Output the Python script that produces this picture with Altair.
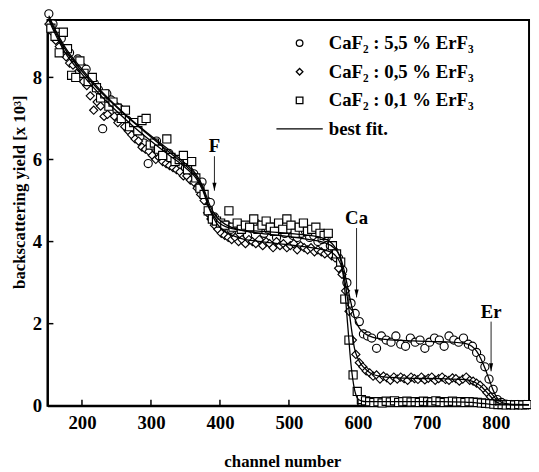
import altair as alt
import pandas as pd

SERIES = ["CaF₂ : 5,5 % ErF₃", "CaF₂ : 0,5 % ErF₃", "CaF₂ : 0,1 % ErF₃"]
FIT_LABEL = "best fit."

# --- circles : CaF2 : 5,5 % ErF3 ---
circ_ch = [152, 158, 164, 170, 176, 182, 188, 194, 200, 206,
           212, 218, 224, 230, 236, 242, 248, 254, 260, 266,
           272, 278, 284, 290, 296, 302, 308, 314, 320, 326,
           332, 338, 344, 350, 356, 362, 368, 374, 380, 386,
           392, 398, 404, 410, 416, 422, 428, 434, 440, 446,
           452, 458, 464, 470, 476, 482, 488, 494, 500, 506,
           512, 518, 524, 530, 536, 542, 548, 554, 560, 566,
           572, 578, 584, 590, 596, 602, 608, 614, 620,
           627, 634, 641, 648, 655, 662, 669, 676, 683, 690,
           697, 704, 711, 718, 725, 732, 739, 746, 753, 760,
           766, 772, 778, 784, 790, 796, 802, 808, 814,
           820, 826, 832, 838, 844]
circ_y = [9.55, 9.3, 9.1, 8.95, 8.7, 8.6, 8.35, 8.45, 8.25, 8.2,
          7.95, 7.85, 7.7, 6.75, 7.6, 7.45, 7.3, 7.25, 7.0, 6.95,
          6.85, 6.6, 6.55, 6.4, 5.9, 6.3, 6.45, 6.2, 6.1, 6.15,
          5.95, 5.9, 5.85, 5.8, 5.7, 5.65, 5.4, 5.45, 5.0, 4.95,
          4.6, 4.45, 4.35, 4.4, 4.3, 4.35, 4.2, 4.3, 4.15, 4.4,
          4.45, 4.35, 4.2, 4.3, 4.35, 4.1, 4.25, 4.2, 4.3, 4.15,
          4.1, 4.2, 4.25, 4.1, 4.15, 4.0, 4.05, 4.1, 3.9, 3.75,
          3.6, 3.3, 3.0, 2.5, 2.25, 2.05, 1.75, 1.7, 1.65,
          1.4, 1.7, 1.6, 1.55, 1.7, 1.5, 1.45, 1.65, 1.55, 1.6,
          1.4, 1.55, 1.65, 1.6, 1.45, 1.7, 1.6, 1.55, 1.65, 1.5,
          1.45, 1.3, 1.15, 0.95, 0.65, 0.4, 0.15, 0.08, 0.04,
          0.03, 0.03, 0.03, 0.03, 0.03]

# --- diamonds : CaF2 : 0,5 % ErF3 ---
diam_ch = [152, 157, 162, 167, 172, 177, 182, 187, 192, 197,
           202, 207, 212, 217, 222, 227, 232, 237, 242, 247,
           252, 257, 262, 267, 272, 277, 282, 287, 292, 297,
           302, 307, 312, 317, 322, 327, 332, 337, 342, 347,
           352, 357, 362, 367, 372, 377, 382, 387, 392, 397,
           402, 407, 412, 417, 422, 427, 432, 437, 442, 447,
           452, 457, 462, 467, 472, 477, 482, 487, 492, 497,
           502, 507, 512, 517, 522, 527, 532, 537, 542, 547,
           552, 557, 562, 567, 572, 577, 582, 587, 592, 597,
           602, 607, 612, 617, 622, 627, 632, 637, 642, 647,
           652, 657, 662, 667, 672, 677, 682, 687, 692, 697,
           702, 707, 712, 717, 722, 727, 732, 737, 742, 747,
           752, 757, 762, 767, 772, 777, 782, 787, 792, 797,
           802, 807, 812, 817, 822, 827, 832, 837, 842, 847]
diam_y = [9.3, 9.1, 8.9, 8.75, 8.6, 8.5, 8.35, 8.3, 8.1, 8.0,
          7.9, 7.8, 7.55, 7.2, 7.4, 7.3, 7.05, 7.1, 7.35, 7.05,
          6.9, 7.0, 6.8, 6.7, 6.6, 6.5, 6.45, 6.3, 6.25, 6.2,
          6.1, 6.0, 6.05, 5.95, 5.9, 5.85, 5.8, 5.75, 5.7, 5.6,
          5.6, 5.5, 5.45, 5.3, 5.15, 5.0, 4.7, 4.55, 4.4, 4.3,
          4.2, 4.15, 4.1, 4.05, 4.1, 4.0, 4.05, 3.95, 4.05, 4.0,
          3.95, 4.05, 3.9, 4.0, 3.95, 3.85, 4.0, 3.9, 3.95, 3.85,
          3.9, 3.95, 3.8, 3.9, 3.85, 3.8, 3.85, 3.75, 3.8, 3.75,
          3.7, 3.75, 3.65, 3.6, 3.35, 3.2, 2.8, 2.3, 1.6, 1.25,
          1.05, 0.95, 0.85, 0.8, 0.72, 0.75, 0.65, 0.72, 0.68, 0.62,
          0.7, 0.65, 0.7, 0.66, 0.62, 0.7, 0.66, 0.64, 0.7, 0.63,
          0.67, 0.7, 0.62, 0.66, 0.7, 0.64, 0.62, 0.68, 0.66, 0.6,
          0.65, 0.7, 0.62, 0.6, 0.55, 0.5, 0.42, 0.32, 0.22, 0.12,
          0.08, 0.05, 0.04, 0.03, 0.03, 0.02, 0.03, 0.02, 0.03, 0.02]

# --- squares : CaF2 : 0,1 % ErF3 ---
squa_ch = [155, 161, 167, 173, 179, 185, 191, 197, 203, 209,
           215, 221, 227, 233, 239, 245, 251, 257, 263, 269,
           275, 281, 287, 293, 299, 305, 311, 317, 323, 329,
           335, 341, 347, 353, 359, 365, 371, 377, 383, 389,
           395, 401, 407, 413, 419, 425, 431, 437, 443, 449,
           455, 461, 467, 473, 479, 485, 491, 497, 503, 509,
           515, 521, 527, 533, 539, 545, 551, 557, 563, 569,
           575, 581, 587, 593, 599, 605, 611, 617, 623,
           629, 635, 641, 647, 653, 659, 665, 671, 677, 683,
           689, 695, 701, 707, 713, 719, 725, 731, 737, 743,
           749, 755, 761, 767, 773, 779, 785, 791, 797, 803,
           809, 815, 821, 827, 833, 839, 845]
squa_y = [9.2, 9.0, 8.6, 9.1, 8.7, 8.05, 8.0, 8.4, 8.1, 7.9,
          8.0, 7.75, 7.5, 7.6, 7.3, 7.4, 7.25, 7.0, 7.2, 6.8,
          6.9, 6.7, 6.95, 7.0, 6.35, 6.4, 6.25, 6.1, 6.5, 6.05,
          5.95, 6.0, 6.1, 5.75, 5.95, 5.55, 5.3, 5.15, 4.75, 4.55,
          4.5, 4.45, 4.4, 4.75, 4.35, 4.45, 4.3, 4.4, 4.35, 4.55,
          4.3, 4.4, 4.5, 4.35, 4.25, 4.45, 4.3, 4.55, 4.4, 4.2,
          4.35, 4.45, 4.25, 4.3, 4.35, 4.2, 4.15, 4.2, 3.9, 3.7,
          3.5, 2.6, 1.6, 0.75, 0.35, 0.15, 0.12, 0.1, 0.08,
          0.1, 0.07, 0.11, 0.09, 0.12, 0.08, 0.1, 0.11, 0.09, 0.1,
          0.08, 0.11, 0.1, 0.09, 0.12, 0.1, 0.08, 0.1, 0.11, 0.09,
          0.1, 0.08, 0.1, 0.09, 0.08, 0.07, 0.06, 0.05, 0.04, 0.03,
          0.03, 0.02, 0.03, 0.02, 0.03, 0.02, 0.03]

# --- best fit curves ---
fit_ch = [152, 160, 175, 200, 225, 250, 275, 300, 325, 350,
          365, 375, 385, 395, 410, 430, 460, 500, 530, 550,
          565, 575, 580, 585, 590, 595, 600, 605, 612, 620,
          640, 680, 720, 755, 765, 772, 778, 784, 790, 796,
          802, 810, 820, 848]
fit_circ = [9.5, 9.2, 8.75, 8.2, 7.72, 7.3, 6.92, 6.58, 6.25, 5.9,
            5.65, 5.35, 4.9, 4.6, 4.4, 4.28, 4.2, 4.12, 4.05, 3.98,
            3.85, 3.6, 3.3, 2.9, 2.5, 2.15, 1.95, 1.83, 1.74, 1.68,
            1.62, 1.58, 1.56, 1.52, 1.45, 1.33, 1.15, 0.92, 0.65, 0.38,
            0.18, 0.07, 0.04, 0.03]
fit_diam = [9.4, 9.1, 8.62, 8.08, 7.6, 7.18, 6.8, 6.45, 6.12, 5.8,
            5.55, 5.25, 4.78, 4.45, 4.22, 4.08, 4.0, 3.92, 3.86, 3.8,
            3.7, 3.45, 3.15, 2.6, 1.95, 1.4, 1.15, 1.0, 0.88, 0.78,
            0.7, 0.67, 0.66, 0.64, 0.6, 0.55, 0.48, 0.38, 0.27, 0.16,
            0.08, 0.04, 0.03, 0.02]
fit_squa = [9.45, 9.15, 8.7, 8.15, 7.68, 7.28, 6.9, 6.55, 6.2, 5.85,
            5.6, 5.3, 4.82, 4.52, 4.35, 4.28, 4.25, 4.2, 4.15, 4.08,
            3.9, 3.55, 3.0, 2.0, 1.0, 0.4, 0.17, 0.12, 0.1, 0.1,
            0.1, 0.1, 0.1, 0.09, 0.08, 0.07, 0.06, 0.05, 0.04, 0.03,
            0.03, 0.02, 0.02, 0.02]

# --- annotations (element edges) ---
ann_label = ["F", "Ca", "Er"]
ann_ch = [392, 598, 793]
ann_text_y = [6.32, 4.57, 2.28]
ann_tail_y = [6.08, 4.33, 2.05]
ann_tip_y = [5.24, 2.64, 0.84]

x_ticks = [200, 300, 400, 500, 600, 700, 800]
y_ticks = [0, 2, 4, 6, 8]

FONT = "Liberation Serif"
W, H = 488, 391

pts = pd.concat([
    pd.DataFrame({"ch": circ_ch, "y": circ_y, "series": SERIES[0]}),
    pd.DataFrame({"ch": diam_ch, "y": diam_y, "series": SERIES[1]}),
    pd.DataFrame({"ch": squa_ch, "y": squa_y, "series": SERIES[2]}),
], ignore_index=True)

fits = pd.concat([
    pd.DataFrame({"ch": fit_ch, "y": fit_circ, "series": SERIES[0]}),
    pd.DataFrame({"ch": fit_ch, "y": fit_diam, "series": SERIES[1]}),
    pd.DataFrame({"ch": fit_ch, "y": fit_squa, "series": SERIES[2]}),
], ignore_index=True)

ann = pd.DataFrame({"label": ann_label, "ch": ann_ch, "ty": ann_text_y,
                    "tail": ann_tail_y, "tip": ann_tip_y})
xt = pd.DataFrame({"v": x_ticks})
yt = pd.DataFrame({"v": y_ticks})

xs = alt.Scale(domain=[150, 848], nice=False, zero=False)
ys = alt.Scale(domain=[0, 9.4], nice=False, zero=False)

x_axis = alt.Axis(values=x_ticks, title="channel number", ticks=False,
                  labelPadding=8, labelFontSize=19, titleFontSize=17,
                  titleX=238, titleY=57, titleBaseline="middle")
y_axis = alt.Axis(values=y_ticks, title="backscattering yield [x 10³]",
                  ticks=False, labelPadding=6, labelFontSize=19,
                  titleFontSize=17, titleX=-28, titleY=174,
                  titleBaseline="middle", titleAlign="center")

LEGEND = alt.Legend(
    title=None, orient="none", legendX=246, legendY=14,
    labelFont=FONT, labelFontWeight="bold", labelFontSize=19,
    labelColor="black", symbolSize=45, symbolFillColor="white",
    symbolStrokeWidth=1.3, symbolOpacity=1,
    labelOffset=20, rowPadding=9, padding=0, labelLimit=300)

legend_domain = SERIES + [FIT_LABEL]
shape_scale = alt.Scale(domain=legend_domain,
                        range=["circle", "diamond", "square", "M-7,0L7,0"])
color_scale = alt.Scale(domain=legend_domain,
                        range=["black", "black", "black", "black"])

points = alt.Chart(pts).mark_point(
    filled=False, fill="white", strokeWidth=1.15, opacity=1,
    fillOpacity=1, size=68
).encode(
    x=alt.X("ch:Q", scale=xs, axis=x_axis),
    y=alt.Y("y:Q", scale=ys, axis=y_axis),
    shape=alt.Shape("series:N", scale=shape_scale, legend=LEGEND),
    color=alt.Color("series:N", scale=color_scale, legend=LEGEND),
)

lines = alt.Chart(fits).mark_line(color="black", strokeWidth=1.3,
                                  interpolate="monotone").encode(
    x=alt.X("ch:Q", scale=xs), y=alt.Y("y:Q", scale=ys), detail="series:N")

xtick_marks = alt.Chart(xt).mark_rule(color="black", strokeWidth=1.5).encode(
    x=alt.X("v:Q", scale=xs), y=alt.value(H), y2=alt.value(H - 6))
ytick_marks = alt.Chart(yt).mark_rule(color="black", strokeWidth=1.5).encode(
    y=alt.Y("v:Q", scale=ys), x=alt.value(0), x2=alt.value(6))

ann_text = alt.Chart(ann).mark_text(font=FONT, fontWeight="bold", fontSize=19,
                                    color="black", baseline="middle").encode(
    x=alt.X("ch:Q", scale=xs), y=alt.Y("ty:Q", scale=ys), text="label:N")
ann_rule = alt.Chart(ann).mark_rule(color="#222", strokeWidth=1).encode(
    x=alt.X("ch:Q", scale=xs), y=alt.Y("tail:Q", scale=ys), y2="tip:Q")
ann_head = alt.Chart(ann).mark_point(shape="M-0.7,-2.7L0.7,-2.7L0,0Z", filled=True,
                                     color="black", size=36, opacity=1).encode(
    x=alt.X("ch:Q", scale=xs), y=alt.Y("tip:Q", scale=ys))

chart = alt.layer(points, lines, xtick_marks, ytick_marks, ann_rule, ann_head,
                  ann_text).properties(
    width=W, height=H, autosize="none",
    padding={"left": 40, "top": 9, "right": 2, "bottom": 62},
).configure(font=FONT).configure_view(
    stroke="black", strokeWidth=2
).configure_axis(
    domainColor="black", domainWidth=2, grid=False, labelFont=FONT,
    labelFontWeight="bold", labelColor="black", titleFont=FONT,
    titleFontWeight="bold", titleColor="black"
)

chart.save("out.html", embed_options={"renderer": "svg", "actions": False})
